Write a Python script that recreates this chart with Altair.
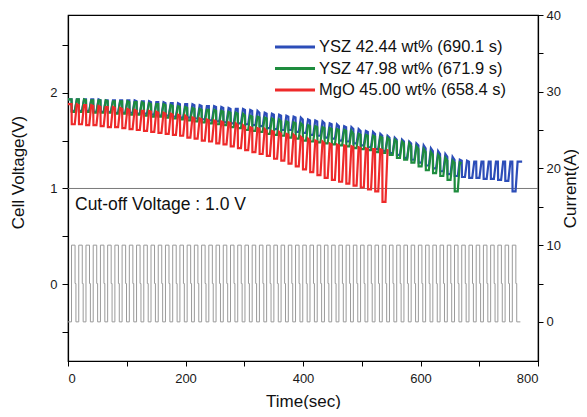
import altair as alt
import pandas as pd

# ---------------- data ----------------
SERIES = ["YSZ 42.44 wt% (690.1 s)", "YSZ 47.98 wt% (671.9 s)", "MgO 45.00 wt% (658.4 s)"]
COLORS = ["#2C4DB8", "#1E8C3E", "#EE2A2A"]

# start time (s) of each 10 A pulse
CYCLE_T = [6.0, 18.3, 30.6, 42.9, 55.2, 67.5, 79.8, 92.1, 104.4, 116.7,
           129.0, 141.3, 153.6, 165.9, 178.2, 190.5, 202.8, 215.1, 227.4, 239.7,
           252.0, 264.3, 276.6, 288.9, 301.2, 313.5, 325.8, 338.1, 350.4, 362.7,
           375.0, 387.3, 399.6, 411.9, 424.2, 436.5, 448.8, 461.1, 473.4, 485.7,
           498.0, 510.3, 522.6, 534.9, 547.2, 559.5, 571.8, 584.1, 596.4, 608.7,
           621.0, 633.3, 645.6, 657.9, 670.2, 682.5, 694.8, 707.1, 719.4, 731.7,
           744.0, 756.3]

# current pulse shape within one cycle (offset s, level A)
CUR_OFFSETS = [0.0, 0.0, 6.0, 6.0, 7.5, 7.5]
CUR_LEVELS = [0, 10, 10, 5, 5, 0]
CUR_END_T = 770.0

# voltage shape within one cycle: rest-top, pulse-bottom, pulse-bottom, recovered-top
V_OFFSETS = [0.0, 0.4, 5.5, 9.0]

BLUE_HI = [1.93, 1.93, 1.93, 1.93, 1.92, 1.92, 1.92, 1.92, 1.92, 1.91,
           1.91, 1.90, 1.90, 1.89, 1.89, 1.88, 1.88, 1.87, 1.86, 1.86,
           1.85, 1.84, 1.83, 1.83, 1.82, 1.81, 1.79, 1.78, 1.77, 1.76,
           1.75, 1.74, 1.72, 1.71, 1.70, 1.68, 1.67, 1.65, 1.64, 1.62,
           1.60, 1.59, 1.57, 1.55, 1.53, 1.51, 1.49, 1.47, 1.45, 1.42,
           1.39, 1.36, 1.33, 1.30, 1.29, 1.28, 1.28, 1.28, 1.28, 1.28,
           1.28, 1.28]
BLUE_LO = [1.81, 1.81, 1.81, 1.80, 1.80, 1.80, 1.79, 1.79, 1.79, 1.78,
           1.78, 1.77, 1.76, 1.76, 1.75, 1.74, 1.74, 1.73, 1.72, 1.71,
           1.70, 1.69, 1.68, 1.68, 1.67, 1.66, 1.65, 1.63, 1.62, 1.61,
           1.61, 1.59, 1.58, 1.56, 1.55, 1.53, 1.52, 1.50, 1.49, 1.47,
           1.45, 1.43, 1.41, 1.39, 1.37, 1.35, 1.32, 1.30, 1.27, 1.24,
           1.21, 1.18, 1.15, 1.13, 1.12, 1.11, 1.11, 1.10, 1.10, 1.09,
           1.08, 0.97]
BLUE_END = (773.0, 1.28)

GREEN_HI = [1.93, 1.93, 1.92, 1.92, 1.92, 1.91, 1.91, 1.91, 1.90, 1.90,
            1.89, 1.88, 1.88, 1.87, 1.86, 1.85, 1.84, 1.83, 1.82, 1.82,
            1.81, 1.80, 1.79, 1.78, 1.76, 1.75, 1.74, 1.73, 1.72, 1.70,
            1.69, 1.68, 1.66, 1.65, 1.64, 1.63, 1.62, 1.61, 1.60, 1.57,
            1.56, 1.55, 1.54, 1.53, 1.51, 1.49, 1.47, 1.44, 1.41, 1.38,
            1.35, 1.32, 1.29, 1.27]
GREEN_LO = [1.80, 1.80, 1.80, 1.79, 1.79, 1.79, 1.78, 1.78, 1.77, 1.77,
            1.76, 1.75, 1.75, 1.74, 1.73, 1.72, 1.71, 1.70, 1.69, 1.68,
            1.67, 1.66, 1.64, 1.63, 1.61, 1.60, 1.59, 1.57, 1.56, 1.55,
            1.53, 1.52, 1.50, 1.49, 1.48, 1.47, 1.46, 1.45, 1.44, 1.42,
            1.41, 1.40, 1.38, 1.37, 1.35, 1.32, 1.30, 1.27, 1.23, 1.19,
            1.16, 1.13, 1.09, 0.97]
GREEN_END = (670.0, 1.26)

RED_HI = [1.88, 1.87, 1.87, 1.86, 1.85, 1.85, 1.84, 1.83, 1.82, 1.81,
          1.81, 1.80, 1.79, 1.78, 1.77, 1.76, 1.74, 1.73, 1.72, 1.71,
          1.70, 1.69, 1.68, 1.66, 1.64, 1.63, 1.62, 1.60, 1.59, 1.57,
          1.56, 1.54, 1.52, 1.50, 1.49, 1.47, 1.46, 1.45, 1.44, 1.43,
          1.42, 1.41, 1.41, 1.40]
RED_LO = [1.67, 1.67, 1.66, 1.66, 1.65, 1.64, 1.64, 1.63, 1.62, 1.61,
          1.60, 1.59, 1.58, 1.57, 1.56, 1.55, 1.53, 1.52, 1.50, 1.49,
          1.47, 1.46, 1.44, 1.42, 1.40, 1.38, 1.36, 1.34, 1.31, 1.29,
          1.26, 1.23, 1.20, 1.17, 1.14, 1.11, 1.09, 1.07, 1.05, 1.03,
          1.01, 0.99, 0.97, 0.86]
RED_END = (543.0, 1.41)

CUTOFF_V = 1.0
CUTOFF_LABEL = "Cut-off Voltage : 1.0 V"

X_TICKS = [0, 100, 200, 300, 400, 500, 600, 700, 800]
YL_TICKS = [-0.5, 0, 0.5, 1, 1.5, 2, 2.5]
YR_TICKS = [0, 5, 10, 15, 20, 25, 30, 35, 40]

# ---------------- tables ----------------
def volt_table(name, hi, lo, end):
    ts, vs = [0.0], [hi[0]]
    for k in range(len(hi)):
        for off, v in zip(V_OFFSETS, [hi[k], lo[k], lo[k], hi[k]]):
            ts.append(CYCLE_T[k] + off)
            vs.append(v)
    ts.append(end[0])
    vs.append(end[1])
    return pd.DataFrame({"t": ts, "v": vs, "series": name, "i": range(len(ts))})

VOLT = [volt_table(SERIES[0], BLUE_HI, BLUE_LO, BLUE_END),
        volt_table(SERIES[1], GREEN_HI, GREEN_LO, GREEN_END),
        volt_table(SERIES[2], RED_HI, RED_LO, RED_END)]

ct, ca = [0.0], [0]
for t0 in CYCLE_T:
    for off, a in zip(CUR_OFFSETS, CUR_LEVELS):
        ct.append(t0 + off)
        ca.append(a)
ct.append(CUR_END_T)
ca.append(0)
cur_df = pd.DataFrame({"t": ct, "a": ca, "i": range(len(ct))})

leg_df = pd.DataFrame({"label": SERIES, "row": [0, 1, 2]})
cut_df = pd.DataFrame({"v": [CUTOFF_V], "label": [CUTOFF_LABEL]})

# ---------------- axes / scales ----------------
FS_LAB = 13
FS_TIT = 17
common = dict(grid=False, domainColor="black", domainWidth=1.2, tickColor="black",
              tickWidth=1, labelFontSize=FS_LAB, labelColor="#1a1a1a",
              titleFontSize=FS_TIT, titleFontWeight="normal", titleColor="#111111",
              labelOverlap=False)

X_AXIS = alt.Axis(title="Time(sec)", values=X_TICKS,
                  labelExpr="datum.value % 200 == 0 ? format(datum.value, 'd') : ''",
                  tickSize=5, labelPadding=6, titleX=235, titleY=40,
                  titleBaseline="middle", titleAlign="center", **common)
X_SCALE = alt.Scale(domain=[0, 800], nice=False)

YL_AXIS = alt.Axis(title="Cell Voltage(V)", orient="left", values=YL_TICKS,
                   labelExpr="datum.value % 1 == 0 ? format(datum.value, 'd') : ''",
                   tickSize=6, labelPadding=5, titleAngle=270, titleX=-50, titleY=157,
                   titleBaseline="middle", titleAlign="center", **common)
YL_SCALE = alt.Scale(domain=[-0.80, 2.81], nice=False, zero=False)

YR_AXIS = alt.Axis(title="Current(A)", orient="right", values=YR_TICKS,
                   labelExpr="datum.value % 10 == 0 ? format(datum.value, 'd') : ''",
                   tickSize=5, labelPadding=3, titleAngle=270, titleX=32, titleY=173,
                   titleBaseline="middle", titleAlign="center", **common)
YR_SCALE = alt.Scale(domain=[-5.1, 40], nice=False, zero=False)

x_enc = alt.X("t:Q", scale=X_SCALE, axis=X_AXIS)

# ---------------- layers ----------------
volt_layers = []
for df, col in zip(VOLT, COLORS):
    volt_layers.append(
        alt.Chart(df).mark_line(color=col, strokeWidth=2.2).encode(
            x=x_enc,
            y=alt.Y("v:Q", scale=YL_SCALE, axis=YL_AXIS),
            order=alt.Order("i:Q"),
        )
    )

cut_rule = alt.Chart(cut_df).mark_rule(color="#7a7a7a", strokeWidth=1).encode(
    y=alt.Y("v:Q", scale=YL_SCALE, axis=YL_AXIS)
)
cut_text = alt.Chart(cut_df).mark_text(align="left", baseline="middle", fontSize=17.5,
                                       color="#111111").encode(
    x=alt.value(7), y=alt.value(189.5), text="label:N"
)

left = alt.layer(cut_rule, *volt_layers, cut_text)

current = alt.Chart(cur_df).mark_line(color="#9a9a9a", strokeWidth=1).encode(
    x=x_enc,
    y=alt.Y("a:Q", scale=YR_SCALE, axis=YR_AXIS),
    order=alt.Order("i:Q"),
)

leg_y = alt.Y("row:O", axis=None,
              scale=alt.Scale(type="point", domain=[0, 1, 2], range=[32, 75], padding=0))
leg_color = alt.Color("label:N", scale=alt.Scale(domain=SERIES, range=COLORS), legend=None)
leg_lines = alt.Chart(leg_df).mark_rule(strokeWidth=3).encode(
    x=alt.value(207), x2=alt.value(247), y=leg_y, color=leg_color
)
leg_text = alt.Chart(leg_df).mark_text(align="left", baseline="middle", fontSize=16.5,
                                       color="#111111").encode(
    x=alt.value(251), y=leg_y, text="label:N"
)
legend = alt.layer(leg_lines, leg_text)

chart = alt.layer(left, current, legend).resolve_scale(y="independent").properties(
    width=470, height=346,
    padding={"left": 60, "top": 7, "right": 41, "bottom": 48},
    autosize=alt.AutoSizeParams(type="none"),
).configure(font="Liberation Sans").configure_view(stroke="black", strokeWidth=1.2)

chart.save("out.html", embed_options={"renderer": "svg", "actions": False})
